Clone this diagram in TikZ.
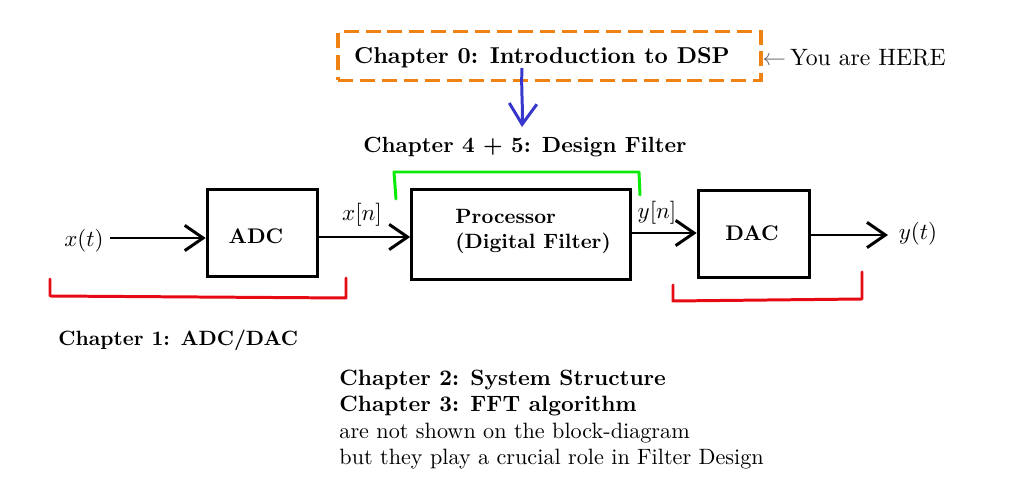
\documentclass[tikz,border=0pt]{standalone}
\usetikzlibrary{arrows.meta}
\definecolor{myorange}{RGB}{240,130,20}
\definecolor{mygreen}{RGB}{10,235,10}
\definecolor{myred}{RGB}{230,10,20}
\definecolor{myblue}{RGB}{55,55,205}
\begin{document}
\begin{tikzpicture}[x=0.435pt,y=-0.435pt,
  blk/.style={draw,line width=1.4pt,inner sep=0pt},
  sig/.style={line width=1.3pt,-{Straight Barb[length=8pt,width=11pt,line width=1.3pt]}},
  brk/.style={line width=1.3pt,line cap=round,line join=round},
  lbl/.style={inner sep=0pt}]
\useasboundingbox (0,0) rectangle (1016,481);
% top box
\node[draw=myorange,dash pattern=on 6.5pt off 3pt,line width=1.4pt,minimum width=184pt,minimum height=21pt,inner sep=0pt] (intro) at (549.5,56) {};
\node[lbl,font=\bfseries] (introtxt) at (542,58) {Chapter 0: Introduction to DSP};
\node[lbl,anchor=west] (here) at (762,57.5) {\scalebox{1.03}{\textcolor{black!60}{$\leftarrow$}\,You are HERE}};
\coordinate (bstart) at (522,68);
\node[lbl,font=\bfseries] (design) at (525,147) {\scalebox{0.955}{Chapter 4 + 5: Design Filter}};
\draw[line width=1.3pt,myblue,-{Straight Barb[length=9pt,width=12pt,line width=1.3pt]}] (bstart) .. controls (521,90) and (523,105) .. (522,127);
% blocks
\node[blk,minimum width=48pt,minimum height=38pt] (adc) at (262.5,233) {};
\node[lbl,font=\bfseries] (adctxt) at (256,236) {\scalebox{0.92}{ADC}};
\node[blk,minimum width=95pt,minimum height=39pt] (proc) at (521,234.5) {};
\node[lbl,anchor=west,font=\bfseries] (proctxt) at (455,231) {\scalebox{0.9}{\begin{tabular}{@{}l@{}}Processor\\(Digital Filter)\end{tabular}}};
\node[blk,minimum width=48.5pt,minimum height=38pt] (dac) at (754,234) {};
\node[lbl,font=\bfseries] (dactxt) at (752,233) {\scalebox{0.92}{DAC}};
\node[lbl] (xt) at (84,241) {$x(t)$};
\node[lbl] (yt) at (918,234) {$y(t)$};
\coordinate (xts) at (110,238);
\coordinate (yte) at (888,235);
\draw[sig] (xts) -- (adc.west |- xts);
\draw[sig] (adc.east |- 0,237) -- (proc.west |- 0,237);
\draw[sig] (proc.east |- 0,233) -- (dac.west |- 0,233);
\draw[sig] (dac.east |- 0,235) -- (yte);
\node[lbl] (xn) at (362,215) {$x[n]$};
\node[lbl] (yn) at (657,213) {$y[n]$};
% brackets
\draw[brk,mygreen] (396,199) -- (394,172) -- (639,172) -- (640,195);
\draw[brk,myred] (50,279) -- (50,296) -- (346,298) -- (346,278);
\draw[brk,myred] (673,285) -- (673,301) -- (862,299) -- (862,272);
% texts
\node[lbl,anchor=west,font=\bfseries] (ch1) at (58,340) {\scalebox{0.9}{Chapter 1: ADC/DAC}};
\node[lbl,anchor=north west] (notes) at (339,366) {\scalebox{0.965}{\begin{tabular}{@{}l@{}}\textbf{Chapter 2: System Structure}\\\textbf{Chapter 3: FFT algorithm}\\are not shown on the block-diagram\\but they play a crucial role in Filter Design\end{tabular}}};
\end{tikzpicture}
\end{document}
